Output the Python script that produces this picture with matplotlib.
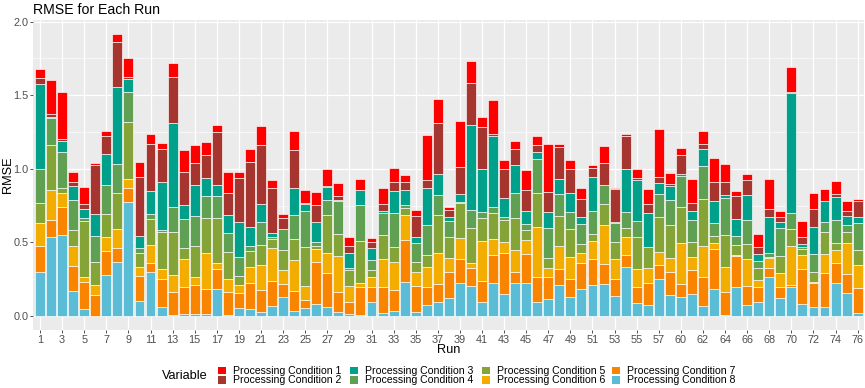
import matplotlib
matplotlib.use("Agg")
import matplotlib.pyplot as plt
from matplotlib.patches import Rectangle
import numpy as np

plt.rcParams['font.family'] = ['Liberation Sans', 'DejaVu Sans']

runs = [str(i) for i in range(1, 59)] + [str(i) for i in range(60, 77)]

c1 = [0.063,0.23,0.318,0.065,0.12,0.011,0.032,0.058,0.129,0.102,
      0.068,0.036,0.093,0.147,0.123,0.088,0.048,0.142,0.041,0.088,
      0.127,0.052,0.025,0.127,0.09,0.086,0.113,0.086,0.057,0.077,
      0.032,0.113,0.095,0.043,0.038,0.306,0.163,0.018,0.311,0.149,
      0.068,0.228,0.061,0.058,0.14,0.063,0.324,0.018,0.059,0.073,
      0.02,0.115,0.011,0.009,0.064,0.102,0.326,0.075,0.047,0.159,
      0.089,0.165,0.12,0.034,0.043,0.086,0.202,0.038,0.17,0.104,
      0.109,0.075,0.088,0.065,0.016]
c2 = [0.04,0.02,0.015,0.028,0.028,0.336,0.125,0.306,0.011,0.401,
      0.317,0.224,0.31,0.227,0.151,0.152,0.36,0.148,0.294,0.447,
      0.399,0.31,0.075,0.254,0.005,0.118,0.005,0.03,0.052,0.0,
      0.04,0.043,0.064,0.059,0.145,0.052,0.346,0.045,0.188,0.285,
      0.281,0.012,0.193,0.107,0.136,0.046,0.138,0.217,0.167,0.125,
      0.066,0.154,0.22,0.228,0.013,0.061,0.041,0.014,0.127,0.054,
      0.033,0.13,0.091,0.159,0.102,0.052,0.054,0.034,0.01,0.052,
      0.123,0.005,0.018,0.034,0.104]
c3 = [0.575,0.01,0.073,0.095,0.065,0.144,0.212,0.519,0.093,0.081,
      0.158,0.329,0.571,0.097,0.206,0.125,0.073,0.124,0.242,0.124,
      0.125,0.023,0.0,0.186,0.047,0.136,0.089,0.006,0.098,0.096,
      0.077,0.018,0.151,0.096,0.041,0.254,0.141,0.032,0.049,0.576,
      0.294,0.487,0.131,0.188,0.095,0.045,0.109,0.104,0.127,0.045,
      0.231,0.0,0.01,0.288,0.279,0.227,0.079,0.095,0.014,0.064,
      0.114,0.147,0.018,0.115,0.17,0.045,0.249,0.041,0.816,0.016,
      0.181,0.138,0.159,0.064,0.045]
c4 = [0.235,0.18,0.244,0.204,0.016,0.177,0.197,0.201,0.202,0.034,
      0.034,0.015,0.174,0.197,0.202,0.151,0.151,0.129,0.125,0.034,
      0.156,0.016,0.141,0.163,0.245,0.022,0.102,0.224,0.018,0.246,
      0.07,0.15,0.227,0.024,0.125,0.204,0.136,0.108,0.011,0.12,
      0.041,0.036,0.021,0.174,0.037,0.231,0.202,0.147,0.114,0.138,
      0.156,0.127,0.127,0.113,0.108,0.005,0.152,0.172,0.208,0.149,
      0.222,0.09,0.254,0.061,0.165,0.05,0.023,0.192,0.109,0.018,
      0.12,0.072,0.154,0.049,0.182]
c5 = [0.135,0.306,0.034,0.108,0.385,0.158,0.156,0.245,0.389,0.093,
      0.175,0.252,0.293,0.075,0.215,0.234,0.306,0.184,0.063,0.109,
      0.133,0.063,0.135,0.142,0.267,0.025,0.26,0.147,0.104,0.284,
      0.046,0.163,0.106,0.046,0.068,0.079,0.256,0.143,0.238,0.238,
      0.156,0.181,0.152,0.216,0.068,0.231,0.07,0.202,0.194,0.057,
      0.043,0.145,0.116,0.061,0.218,0.138,0.242,0.224,0.249,0.1,
      0.321,0.046,0.217,0.068,0.1,0.079,0.011,0.114,0.113,0.039,
      0.068,0.15,0.05,0.075,0.101]
c6 = [0.155,0.204,0.096,0.136,0.03,0.071,0.091,0.129,0.057,0.063,
      0.12,0.068,0.117,0.19,0.052,0.244,0.041,0.09,0.057,0.109,
      0.17,0.22,0.093,0.211,0.095,0.088,0.132,0.243,0.109,0.027,
      0.068,0.186,0.188,0.17,0.095,0.136,0.215,0.091,0.143,0.038,
      0.27,0.109,0.07,0.151,0.095,0.34,0.059,0.161,0.15,0.072,
      0.127,0.263,0.138,0.121,0.118,0.102,0.086,0.095,0.277,0.09,
      0.209,0.045,0.17,0.01,0.181,0.05,0.068,0.095,0.265,0.097,
      0.011,0.129,0.09,0.211,0.159]
c7 = [0.175,0.118,0.19,0.172,0.188,0.14,0.168,0.095,0.10,0.17,
      0.065,0.192,0.154,0.181,0.197,0.172,0.131,0.154,0.102,0.181,
      0.148,0.172,0.095,0.134,0.057,0.286,0.231,0.14,0.081,0.194,
      0.108,0.181,0.145,0.283,0.177,0.124,0.118,0.181,0.163,0.118,
      0.149,0.188,0.283,0.071,0.199,0.172,0.154,0.104,0.124,0.172,
      0.174,0.138,0.111,0.083,0.113,0.154,0.098,0.152,0.086,0.166,
      0.197,0.272,0.156,0.205,0.131,0.104,0.061,0.079,0.012,0.238,
      0.159,0.227,0.136,0.129,0.17]
c8 = [0.30,0.535,0.548,0.168,0.045,0.0,0.276,0.365,0.772,0.10,
      0.297,0.057,0.005,0.014,0.014,0.014,0.186,0.005,0.052,0.045,
      0.029,0.068,0.125,0.036,0.052,0.079,0.063,0.025,0.016,0.005,
      0.091,0.018,0.032,0.233,0.029,0.075,0.097,0.12,0.222,0.206,
      0.091,0.224,0.147,0.226,0.222,0.095,0.113,0.213,0.125,0.186,
      0.211,0.215,0.138,0.331,0.086,0.072,0.249,0.145,0.131,0.147,
      0.07,0.181,0.005,0.199,0.075,0.091,0.263,0.12,0.199,0.079,
      0.063,0.063,0.222,0.154,0.018]

series_names = ["Processing Condition %d" % i for i in range(1, 9)]
series_vals = [c1, c2, c3, c4, c5, c6, c7, c8]
colors = ["#FF0000", "#A5352E", "#00A08A", "#5FA052",
          "#85A438", "#F2AD00", "#F98400", "#5BBCD6"]

W, H = 865, 388
fig = plt.figure(figsize=(W / 100, H / 100), dpi=100)
left_px, right_px, top_px, bot_px = 33.4, 864.3, 19.5, 330.0
ax = fig.add_axes([left_px / W, 1 - bot_px / H,
                   (right_px - left_px) / W, (bot_px - top_px) / H])
ax.set_facecolor("#EBEBEB")
for s in ax.spines.values():
    s.set_visible(False)

x = np.arange(len(runs))
bottom = np.zeros(len(runs))
# stack from Condition 8 (bottom) up to Condition 1 (top)
for name, vals, col in reversed(list(zip(series_names, series_vals, colors))):
    v = np.array(vals)
    ax.bar(x, v, width=0.9, bottom=bottom, color=col, edgecolor="white",
           linewidth=0.45, zorder=3)
    bottom += v

ymax = bottom.max()
ax.set_ylim(-0.05 * ymax, 1.05 * ymax)
ax.set_xlim(-0.6, len(runs) - 0.4)

yt = [0.0, 0.5, 1.0, 1.5, 2.0]
ax.set_yticks(yt)
ax.set_yticklabels(["%.1f" % v for v in yt])
ax.set_yticks([0.25, 0.75, 1.25, 1.75], minor=True)
xt = x[::2]
ax.set_xticks(xt)
ax.set_xticklabels([runs[i] for i in xt])
ax.tick_params(axis="both", which="major", colors="#333333", length=2.4,
               width=0.6, labelsize=7.8, labelcolor="#4D4D4D", pad=1.2)
ax.tick_params(axis="y", which="minor", length=0)
ax.grid(True, which="major", color="white", linewidth=0.9, zorder=0)
ax.grid(True, which="minor", axis="y", color="white", linewidth=0.45, zorder=0)
ax.set_axisbelow(True)

fig.text(left_px / W, 1 - 10 / H, "RMSE for Each Run", fontsize=10.2,
         ha="left", va="center", color="black")
fig.text(8.5 / W, 1 - 175 / H, "RMSE", fontsize=9.2, rotation=90,
         ha="center", va="center", color="black")
fig.text((left_px + right_px) / 2 / W, 1 - 350 / H, "Run", fontsize=9.2,
         ha="center", va="center", color="black")

# legend
fig.text(162 / W, 1 - 375.7 / H, "Variable", fontsize=9.2, ha="left",
         va="center", color="black")
col_x = [218, 350, 482, 612]
row_y = [370.7, 380.0]
for k, (name, col) in enumerate(zip(series_names, colors)):
    c, r = k // 2, k % 2
    kx, ky = col_x[c], row_y[r]
    fig.patches.append(Rectangle(((kx) / W, 1 - (ky + 3.7) / H), 7.5 / W, 7.4 / H,
                                 transform=fig.transFigure, facecolor=col,
                                 edgecolor="none"))
    fig.text((kx + 15) / W, 1 - ky / H, name, fontsize=7.6, ha="left",
             va="center", color="black")

fig.savefig("out.png", dpi=100)
